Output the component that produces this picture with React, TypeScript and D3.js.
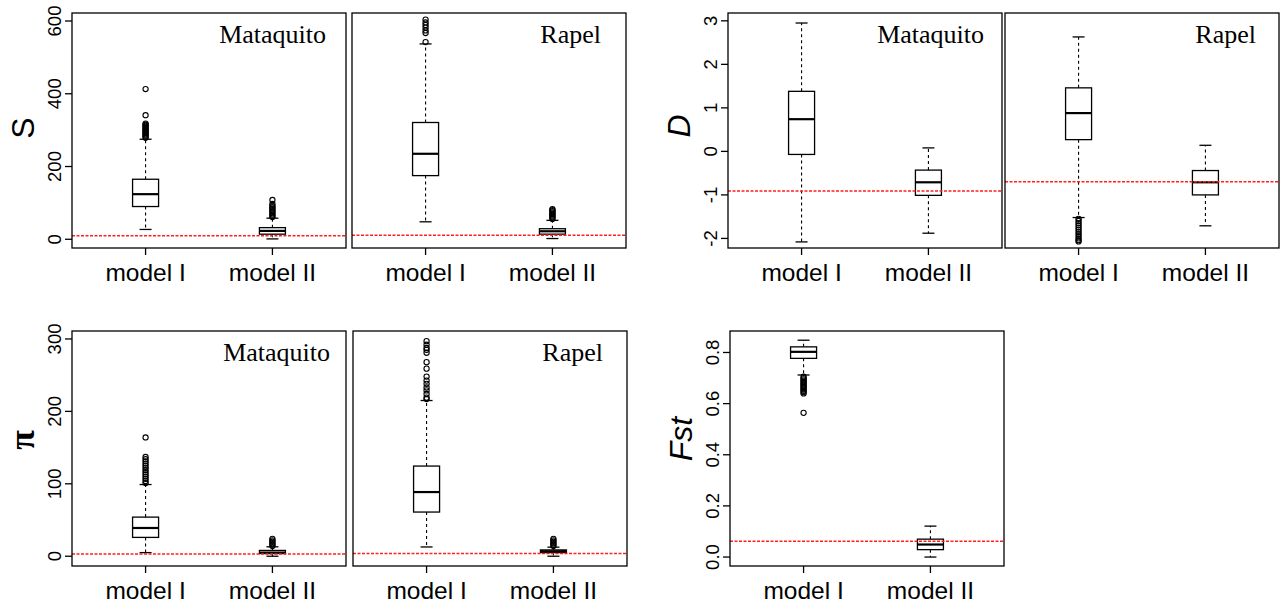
import React from "react";
import * as d3 from "d3";

// categories
const models = ["model I", "model II"];
const regions = ["Mataquito", "Rapel"];

// box stats per model: [lower whisker, q1, median, q3, upper whisker]
const sMataquitoBox = [[27, 90, 124, 165, 275], [1, 14, 23, 32, 58]];
const sMataquitoOut = [
  [413, 341, 318, 315, 312, 309, 306, 303, 300, 297, 294, 291, 288, 285, 282, 279],
  [108, 97, 92, 88, 84, 80, 76, 72, 68, 64, 61],
];
const sRapelBox = [[48, 175, 235, 321, 537], [2, 14, 22, 29, 52]];
const sRapelOut = [
  [604, 596, 589, 582, 574, 567, 542],
  [83, 80, 77, 74, 71, 68, 65, 62, 59, 56],
];
const sObserved = [10, 11];

const dMataquitoBox = [[-2.08, -0.07, 0.74, 1.38, 2.95], [-1.88, -1.01, -0.71, -0.43, 0.08]];
const dMataquitoOut: number[][] = [[], []];
const dRapelBox = [[-1.52, 0.27, 0.88, 1.46, 2.63], [-1.71, -1.0, -0.71, -0.44, 0.14]];
const dRapelOut = [
  [-1.55, -1.6, -1.65, -1.7, -1.75, -1.8, -1.85, -1.9, -1.95, -2.0, -2.04, -2.07],
  [],
];
const dObserved = [-0.91, -0.7];

const piMataquitoBox = [[5, 26, 39, 54, 99], [0, 3.7, 5, 8, 13]];
const piMataquitoOut = [
  [164, 137, 134, 131, 128, 125, 122, 119, 116, 113, 110, 107, 104, 101],
  [24, 22, 20, 18, 16, 14],
];
const piRapelBox = [[12.8, 61, 88.6, 124.5, 215], [0, 5, 6.9, 8.7, 12.5]];
const piRapelOut = [
  [297, 292, 287.5, 285, 281, 268, 259, 248, 242.5, 238, 233, 229, 224, 219, 217],
  [24, 22, 20, 18, 16, 14],
];
const piObserved = [3.2, 3.7];

const fstBox = [[0.712, 0.777, 0.8025, 0.822, 0.848], [0.0, 0.029, 0.049, 0.07, 0.121]];
const fstOut = [
  [0.705, 0.7, 0.695, 0.69, 0.685, 0.68, 0.675, 0.67, 0.665, 0.66, 0.655, 0.65, 0.645, 0.64, 0.564],
  [],
];
const fstObserved = 0.062;

// axis limits and ticks
const sLim = [-24, 622];
const sTicks = [0, 200, 400, 600];
const dLim = [-2.22, 3.18];
const dTicks = [-2, -1, 0, 1, 2, 3];
const piLim = [-13.5, 311];
const piTicks = [0, 100, 200, 300];
const fstLim = [-0.035, 0.884];
const fstTicks = [0, 0.2, 0.4, 0.6, 0.8];

const W = 274;
const H = 235;
const sans = "Liberation Sans, Arial, sans-serif";

function Panel({ x0, y0, box, out, obs, lim, ticks, fmt, label, labelRight, title, titleY, italic }: any) {
  const x = d3.scaleLinear().domain([0.42, 2.58]).range([x0, x0 + W]);
  const y = d3.scaleLinear().domain(lim).range([y0 + H, y0]);
  const bw = 26;
  const cw = 12;
  return (
    <g>
      {box.map((b: number[], i: number) => {
        const cx = x(i + 1);
        return (
          <g key={i}>
            <line x1={cx} x2={cx} y1={y(b[3])} y2={y(b[4])} stroke="#000" strokeWidth={1.1} strokeDasharray="3,3" />
            <line x1={cx} x2={cx} y1={y(b[1])} y2={y(b[0])} stroke="#000" strokeWidth={1.1} strokeDasharray="3,3" />
            <line x1={cx - cw / 2} x2={cx + cw / 2} y1={y(b[4])} y2={y(b[4])} stroke="#000" strokeWidth={1.3} />
            <line x1={cx - cw / 2} x2={cx + cw / 2} y1={y(b[0])} y2={y(b[0])} stroke="#000" strokeWidth={1.3} />
            <rect x={cx - bw / 2} y={y(b[3])} width={bw} height={y(b[1]) - y(b[3])} fill="#fff" stroke="#000" strokeWidth={1.3} />
            <line x1={cx - bw / 2} x2={cx + bw / 2} y1={y(b[2])} y2={y(b[2])} stroke="#000" strokeWidth={2.2} />
            {out[i].map((v: number, j: number) => (
              <circle key={j} cx={cx} cy={y(v)} r={2.6} fill="none" stroke="#000" strokeWidth={1.1} />
            ))}
          </g>
        );
      })}
      <line x1={x0} x2={x0 + W} y1={y(obs)} y2={y(obs)} stroke="#ff2020" strokeWidth={1.5} strokeDasharray="3,1.5" />
      <rect x={x0} y={y0} width={W} height={H} fill="none" stroke="#000" strokeWidth={1.3} />
      {/* x axis */}
      {models.map((m, i) => (
        <g key={m}>
          <line x1={x(i + 1)} x2={x(i + 1)} y1={y0 + H} y2={y0 + H + 7} stroke="#000" strokeWidth={1.3} />
          <text x={x(i + 1)} y={y0 + H + 33} textAnchor="middle" fontFamily={sans} fontSize={24.5}>
            {m}
          </text>
        </g>
      ))}
      {ticks &&
        ticks.map((t: number) => (
          <g key={t}>
            <line x1={x0 - 7} x2={x0} y1={y(t)} y2={y(t)} stroke="#000" strokeWidth={1.3} />
            <text
              transform={`translate(${x0 - 11},${y(t)}) rotate(-90)`}
              textAnchor="middle"
              fontFamily={sans}
              fontSize={18.5}
            >
              {fmt(t)}
            </text>
          </g>
        ))}
      {label && (
        <text
          x={x0 + W - labelRight}
          y={y0 + 30}
          textAnchor="end"
          fontFamily="Liberation Serif, Times New Roman, serif"
          fontSize={26}
        >
          {label}
        </text>
      )}
      {title && (
        <text
          transform={`translate(${x0 - 38},${titleY}) rotate(-90)`}
          textAnchor="middle"
          fontFamily={title === "π" ? "Liberation Serif, serif" : sans}
          fontStyle={italic ? "italic" : "normal"}
          fontWeight={title === "π" ? "bold" : "normal"}
          fontSize={title === "π" ? 36 : 32}
        >
          {title}
        </text>
      )}
    </g>
  );
}

export default function App() {
  const intFmt = (t: number) => String(t);
  const fstFmt = (t: number) => t.toFixed(1);
  return (
    <svg width={1280} height={607} style={{ position: "absolute", left: 0, top: 0, background: "#fff" }}>
      <Panel x0={72} y0={13} box={sMataquitoBox} out={sMataquitoOut} obs={sObserved[0]} lim={sLim} ticks={sTicks}
        fmt={intFmt} label={regions[0]} labelRight={20} title="S" titleY={128} />
      <Panel x0={352} y0={13} box={sRapelBox} out={sRapelOut} obs={sObserved[1]} lim={sLim}
        label={regions[1]} labelRight={25} />
      <Panel x0={728} y0={13} box={dMataquitoBox} out={dMataquitoOut} obs={dObserved[0]} lim={dLim} ticks={dTicks}
        fmt={intFmt} label={regions[0]} labelRight={18} title="D" titleY={126} italic />
      <Panel x0={1005} y0={13} box={dRapelBox} out={dRapelOut} obs={dObserved[1]} lim={dLim}
        label={regions[1]} labelRight={23} />
      <Panel x0={72} y0={331} box={piMataquitoBox} out={piMataquitoOut} obs={piObserved[0]} lim={piLim} ticks={piTicks}
        fmt={intFmt} label={regions[0]} labelRight={16} title="π" titleY={440} />
      <Panel x0={353} y0={331} box={piRapelBox} out={piRapelOut} obs={piObserved[1]} lim={piLim}
        label={regions[1]} labelRight={24} />
      <Panel x0={730} y0={331} box={fstBox} out={fstOut} obs={fstObserved} lim={fstLim} ticks={fstTicks}
        fmt={fstFmt} title="Fst" titleY={439} italic />
    </svg>
  );
}
